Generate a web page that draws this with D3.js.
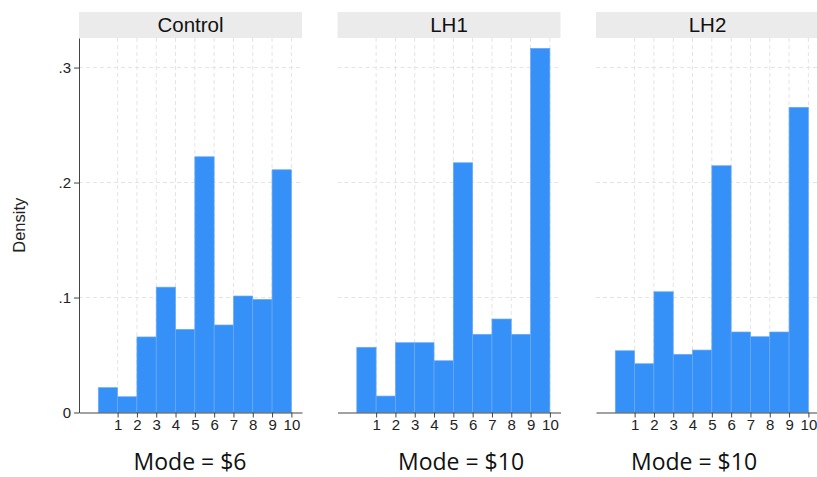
<!DOCTYPE html>
<html>
<head>
<meta charset="utf-8">
<script src="https://cdn.jsdelivr.net/npm/d3@7"></script>
<style>
  body { margin: 0; background: #fff; }
  svg { display: block; }
</style>
</head>
<body>
<div id="chart"></div>
<script>
// panel names, captions and bar heights (density for bins 0-1 ... 9-10)
var groups = ["Control", "LH1", "LH2"];
var captions = ["Mode = $6", "Mode = $10", "Mode = $10"];
var bins = [0, 1, 2, 3, 4, 5, 6, 7, 8, 9];
var control = [0.0216, 0.0137, 0.0657, 0.109, 0.0723, 0.2224, 0.0761, 0.1013, 0.0984, 0.2111];
var lh1 = [0.0567, 0.0143, 0.0607, 0.0607, 0.045, 0.2172, 0.068, 0.0813, 0.068, 0.3167];
var lh2 = [0.0537, 0.0424, 0.105, 0.0506, 0.0543, 0.2146, 0.070, 0.0659, 0.070, 0.2654];
var xTicks = [1, 2, 3, 4, 5, 6, 7, 8, 9, 10];
var yTicks = [0, 0.1, 0.2, 0.3];

var series = [control, lh1, lh2];

var W = 817, H = 477;
var plotTop = 38, plotBottom = 412.5, panelW = 223, step = 258.5, firstLeft = 79;
var captionX = [190, 461, 694];
var arial = "'Liberation Sans', Arial, sans-serif";

var svg = d3.select("#chart").append("svg")
    .attr("width", W)
    .attr("height", H);

var y = d3.scaleLinear()
    .domain([0, 0.3257])
    .range([plotBottom, plotTop]);

var yFmt = function (d) { return d === 0 ? "0" : d3.format(".1f")(d).replace(/^0/, ""); };

groups.forEach(function (name, i) {
  var left = firstLeft + i * step;
  var x = d3.scaleLinear()
    .domain([-1, 10.55])
    .range([left, left + panelW]);

  var g = svg.append("g");

  // header strip
  g.append("rect")
    .attr("x", left).attr("y", 12)
    .attr("width", panelW).attr("height", plotTop - 12)
    .attr("fill", "#ebebeb");
  g.append("text")
    .attr("x", left + panelW / 2).attr("y", 32)
    .attr("text-anchor", "middle")
    .style("font-family", arial).style("font-size", "20.5px")
    .attr("fill", "#111")
    .text(name);

  // grid
  g.selectAll(".vgrid").data(xTicks).enter().append("line")
    .attr("x1", function (d) { return x(d); })
    .attr("x2", function (d) { return x(d); })
    .attr("y1", plotTop).attr("y2", plotBottom)
    .attr("stroke", "#e4e4e4").attr("stroke-dasharray", "4,3");
  g.selectAll(".hgrid").data(yTicks.slice(1)).enter().append("line")
    .attr("x1", left).attr("x2", left + panelW)
    .attr("y1", function (d) { return y(d); })
    .attr("y2", function (d) { return y(d); })
    .attr("stroke", "#e4e4e4").attr("stroke-dasharray", "4,3");

  // bars
  g.selectAll(".bar").data(series[i]).enter().append("rect")
    .attr("x", function (d, j) { return x(bins[j]); })
    .attr("width", function (d, j) { return x(bins[j] + 1) - x(bins[j]); })
    .attr("y", function (d) { return y(d); })
    .attr("height", function (d) { return plotBottom - y(d); })
    .attr("fill", "#3590f8")
    .attr("stroke", "#6aaaf6")
    .attr("stroke-width", 0.7);

  // x axis
  var xAxis = g.append("g")
    .attr("transform", "translate(0," + plotBottom + ")")
    .attr("font-family", arial).attr("font-size", 15)
    .call(d3.axisBottom(x).tickValues(xTicks).tickSize(5).tickPadding(2).tickSizeOuter(0));
  xAxis.attr("font-family", arial).attr("font-size", 15);
  xAxis.select(".domain").attr("stroke", "#444");
  xAxis.selectAll(".tick line").attr("stroke", "#444");
  xAxis.selectAll("text").attr("fill", "#222");

  // y axis only on the first panel
  if (i === 0) {
    var yAxis = g.append("g")
      .attr("transform", "translate(" + left + ",0)")
      .call(d3.axisLeft(y).tickValues(yTicks).tickFormat(yFmt).tickSize(5).tickPadding(3).tickSizeOuter(0));
    yAxis.attr("font-family", arial).attr("font-size", 15);
    yAxis.select(".domain").attr("stroke", "#444");
    yAxis.selectAll(".tick line").attr("stroke", "#444");
    yAxis.selectAll("text").attr("fill", "#222");
  }

  // caption
  svg.append("text")
    .attr("x", captionX[i]).attr("y", 470)
    .attr("text-anchor", "middle")
    .style("font-family", "'Open Sans', 'Noto Sans', sans-serif").style("font-size", "23px")
    .attr("fill", "#111")
    .text(captions[i]);
});

svg.append("text")
  .attr("transform", "translate(25," + (plotTop + plotBottom) / 2 + ") rotate(-90)")
  .attr("text-anchor", "middle")
  .style("font-family", arial).style("font-size", "16.5px")
  .attr("fill", "#222")
  .text("Density");
</script>
</body>
</html>
